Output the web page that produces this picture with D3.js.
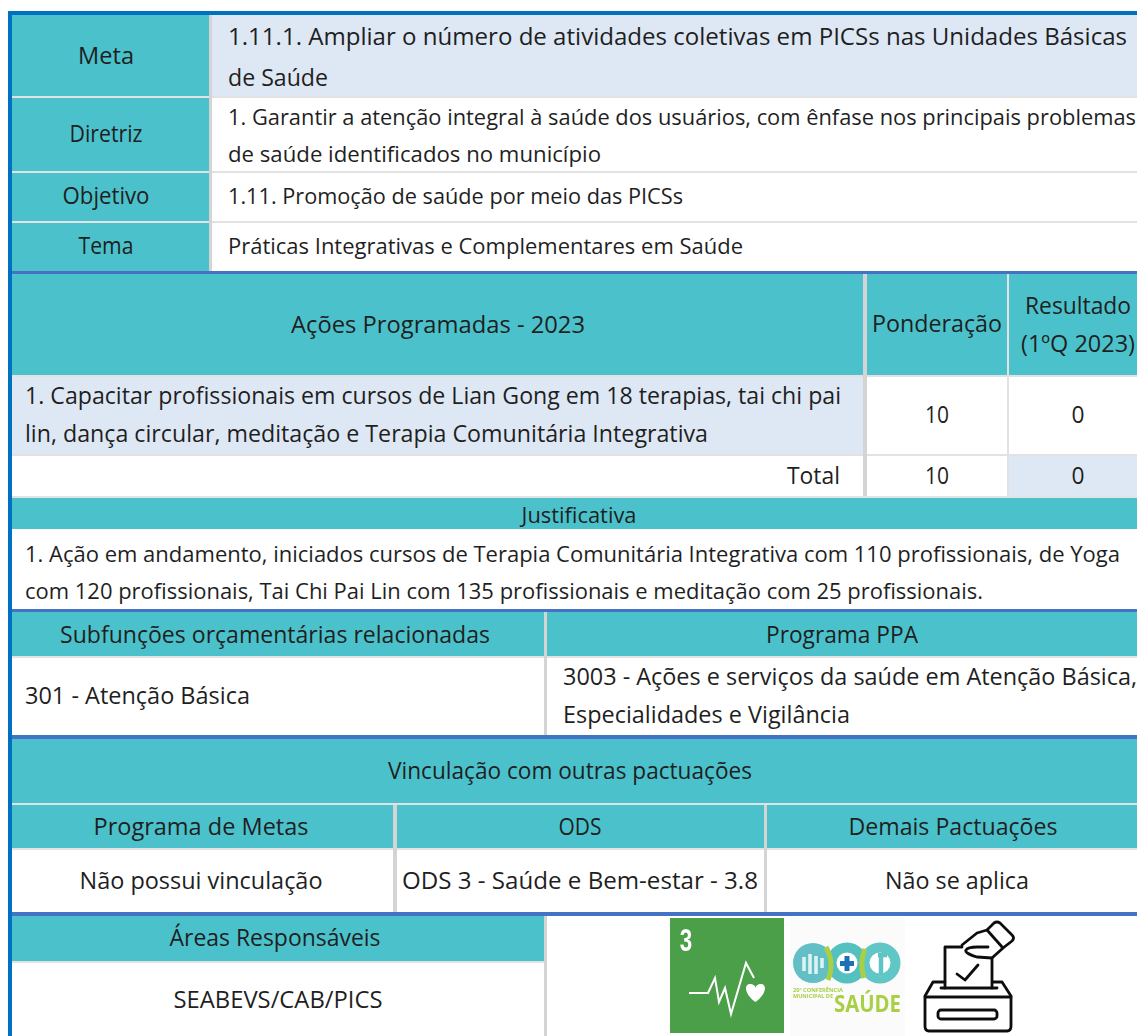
<!DOCTYPE html>
<html>
<head>
<meta charset="utf-8">
<style>
html, body { margin: 0; padding: 0; background: #fff; }
svg { display: block; }
text { font-family: "Open Sans", sans-serif; font-size: 23px; fill: #1f1f1f; }
</style>
</head>
<body>
<svg id="chart" width="1137" height="1036"></svg>
<script src="https://cdnjs.cloudflare.com/ajax/libs/d3/7.8.5/d3.min.js"></script>
<script>
// table content
const headLabels = ["Meta", "Diretriz", "Objetivo", "Tema"]
const headTexts = [
  ["1.11.1. Ampliar o número de atividades coletivas em PICSs nas Unidades Básicas", "de Saúde"],
  ["1. Garantir a atenção integral à saúde dos usuários, com ênfase nos principais problemas", "de saúde identificados no município"],
  ["1.11. Promoção de saúde por meio das PICSs"],
  ["Práticas Integrativas e Complementares em Saúde"]
]
const actionHeaders = ["Ações Programadas - 2023", "Ponderação", ["Resultado", "(1ºQ 2023)"]]
const actionLines = ["1. Capacitar profissionais em cursos de Lian Gong em 18 terapias, tai chi pai", "lin, dança circular, meditação e Terapia Comunitária Integrativa"]
const weights = [10, 10]
const results = [0, 0]
const totalLabel = "Total"
const justTitle = "Justificativa"
const justLines = ["1. Ação em andamento, iniciados cursos de Terapia Comunitária Integrativa com 110 profissionais, de Yoga", "com 120 profissionais, Tai Chi Pai Lin com 135 profissionais e meditação com 25 profissionais."]
const budgetHeaders = ["Subfunções orçamentárias relacionadas", "Programa PPA"]
const budgetLeft = "301 - Atenção Básica"
const budgetRight = ["3003 - Ações e serviços da saúde em Atenção Básica,", "Especialidades e Vigilância"]
const linkTitle = "Vinculação com outras pactuações"
const linkHeaders = ["Programa de Metas", "ODS", "Demais Pactuações"]
const linkValues = ["Não possui vinculação", "ODS 3 - Saúde e Bem-estar - 3.8", "Não se aplica"]
const areaTitle = "Áreas Responsáveis"
const areaValue = "SEABEVS/CAB/PICS"

const TEAL = "#4bc2cb", PALE = "#deE8f5", GREY = "#e2e2e2", DARK = "#d4d4d4", BLUE = "#4472c4", FRAME = "#0070c0"
const W = 1137, H = 1036

const svg = d3.select("#chart")
const rects = svg.append("g")
const labels = svg.append("g")

function box(x0, x1, y0, y1, fill) {
  rects.append("rect").attr("x", x0).attr("y", y0).attr("width", x1 - x0).attr("height", y1 - y0).attr("fill", fill)
}
// wide = width the text takes up in the picture, the glyphs get squeezed to it
function say(str, x, y, anchor, wide, size) {
  const t = labels.append("text").attr("x", x).attr("y", y).attr("dy", "0.36em")
    .attr("text-anchor", anchor || "start").text(str)
  if (wide) t.attr("textLength", wide).attr("lengthAdjust", "spacingAndGlyphs")
  if (size) t.style("font-size", size + "px")
}

// top block
const headY = d3.scaleOrdinal().domain(headLabels).range([15, 98, 173, 223])
const headEnd = d3.scaleOrdinal().domain(headLabels).range([96, 171, 221, 271])
const headLabelY = [56, 134, 196, 246]
const headLineY = [[36, 77], [117, 154], [196], [246]]
const headLabelW = [56, 73, 87, 55]
const headLineW = [[899, 100], [908, 373], [455], [515]]
const headLineSize = [[24, 24], [21.8, 21.8], [22], [22]]
headLabels.forEach((d, i) => {
  box(12, 209, headY(d), headEnd(d), TEAL)
  box(212, W, headY(d), headEnd(d), i == 0 ? PALE : "#fff")
  if (i < 3) box(12, W, headEnd(d), headEnd(d) + 2, GREY)
  say(d, 106, headLabelY[i], "middle", headLabelW[i])
  headTexts[i].forEach((t, j) => say(t, 228, headLineY[i][j], "start", headLineW[i][j], headLineSize[i][j]))
})
box(209, 212, 15, 274, DARK)

// actions
box(12, 863, 274, 375, TEAL); box(867, 1007, 274, 375, TEAL); box(1009, W, 274, 375, TEAL)
box(12, W, 375, 377, GREY)
box(12, 863, 377, 454, PALE)
box(12, W, 454, 456, GREY)
box(1009, W, 456, 496, PALE)
box(863, 867, 274, 496, DARK)
box(1007, 1009, 274, 496, GREY)
say(actionHeaders[0], 438, 325, "middle", 294)
say(actionHeaders[1], 937, 324, "middle", 130)
say(actionHeaders[2][0], 1078, 306, "middle", 106)
say(actionHeaders[2][1], 1078, 344, "middle", 114)
actionLines.forEach((t, i) => say(t, 25, [396, 434][i], "start", [816, 683][i]))
const rowY = [415, 476]
weights.forEach((d, i) => say(d, 937, rowY[i], "middle", 24))
results.forEach((d, i) => say(d, 1078, rowY[i], "middle", 13))
say(totalLabel, 840, 476, "end", 53)
box(12, W, 496, 498, GREY)

// justification
box(12, W, 498, 529, TEAL)
say(justTitle, 579, 515, "middle", 115, 22)
justLines.forEach((t, i) => say(t, 25, [554, 591][i], "start", [1095, 958][i], 22))

// budget
box(12, 544, 612, 656, TEAL); box(547, W, 612, 656, TEAL)
box(12, W, 656, 658, GREY)
box(544, 547, 612, 735, DARK)
say(budgetHeaders[0], 275, 635, "middle", 430)
say(budgetHeaders[1], 842, 635, "middle", 152)
say(budgetLeft, 25, 696, "start", 225)
budgetRight.forEach((t, i) => say(t, 563, [677, 715][i], "start", [574, 287][i]))

// links
box(12, W, 739, 803, TEAL)
box(12, W, 803, 805, GREY)
say(linkTitle, 570, 771, "middle", 364)
const linkCols = [[12, 393], [397, 764], [767, W]]
const linkHeadX = [201, 580, 953]
const linkValX = [201, 580, 957]
const linkHeadW = [215, 43, 209]
const linkValW = [243, 356, 144]
linkCols.forEach((c, i) => {
  box(c[0], c[1], 805, 848, TEAL)
  say(linkHeaders[i], linkHeadX[i], 827, "middle", linkHeadW[i])
  say(linkValues[i], linkValX[i], 881, "middle", linkValW[i])
})
box(12, W, 848, 850, GREY)
box(393, 397, 805, 912, DARK)
box(764, 767, 805, 912, DARK)

// areas
box(12, 544, 916, 961, TEAL)
box(12, 544, 961, 963, GREY)
box(544, 547, 916, H, DARK)
say(areaTitle, 275, 938, "middle", 211)
say(areaValue, 278, 1000, "middle", 209)

// blue rules and frame
;[[271, 274], [609, 612], [735, 739], [912, 916]].forEach(d => box(12, W, d[0], d[1], BLUE))
box(8, W, 11, 15, FRAME)
box(8, 12, 11, H, FRAME)

// pictures at the bottom
const defs = svg.append("defs")
defs.append("filter").attr("id", "soft").append("feGaussianBlur").attr("stdDeviation", 0.6)
const pics = svg.append("g").attr("filter", "url(#soft)")

// ODS 3 tile
pics.append("rect").attr("x", 670).attr("y", 918).attr("width", 114).attr("height", 115).attr("fill", "#4c9f48")
pics.append("text").attr("x", 686).attr("y", 951).attr("text-anchor", "middle")
  .style("font-family", "'Liberation Sans'").style("font-weight", 700).style("font-size", "32px").style("fill", "#fff")
  .attr("transform", "translate(686 0) scale(.7 1) translate(-686 0)").text("3")
pics.append("path").attr("d", "M689 993H708L715 978L719 1002L725 988L731 1014L746 963L754 978")
  .attr("fill", "none").attr("stroke", "#fff").attr("stroke-width", 2)
pics.append("path").attr("d", "M755.5 1002C744 994 744 984 750 984C753 984 755.5 986 755.5 988C755.5 986 758 984 761 984C767 984 767 994 755.5 1002Z")
  .attr("fill", "#fff")

// conference logo
pics.append("rect").attr("x", 790).attr("y", 917).attr("width", 115).attr("height", 119).attr("fill", "#fbfbfb")
pics.append("circle").attr("cx", 813).attr("cy", 963).attr("r", 20).attr("fill", "#62bfc6")
pics.selectAll("circle.ring").data([847, 880]).enter().append("circle").attr("class", "ring")
  .attr("cx", d => d).attr("cy", 963).attr("r", 15.5)
  .attr("fill", "#fff").attr("stroke", (d, i) => ["#55c0c0", "#60c6c6"][i]).attr("stroke-width", 10)
pics.append("path").attr("d", "M826 947Q835 963 828 980").attr("fill", "none").attr("stroke", "#a9cf45").attr("stroke-width", 5)
pics.append("path").attr("d", "M865 949Q859 963 864 978").attr("fill", "none").attr("stroke", "#a9cf45").attr("stroke-width", 5)
pics.append("path").attr("d", "M847 956V971M840 963.5H854").attr("stroke", "#1f6fb5").attr("stroke-width", 5)
pics.append("path").attr("d", "M804 957v14M810 954v20M816 956v18M822 958v10").attr("stroke", "#dff3f3").attr("stroke-width", 3.5)
pics.append("path").attr("d", "M878 955h9M881 955v20").attr("stroke", "#5fc4c6").attr("stroke-width", 4.5).attr("fill", "none")
pics.append("text").attr("x", 793).attr("y", 992).attr("textLength", 50).attr("lengthAdjust", "spacingAndGlyphs")
  .style("font-size", "5px").style("font-weight", 700).style("fill", "#a9cf45").text("20ª CONFERÊNCIA")
pics.append("text").attr("x", 793).attr("y", 998).attr("textLength", 40).attr("lengthAdjust", "spacingAndGlyphs")
  .style("font-size", "5px").style("font-weight", 700).style("fill", "#a9cf45").text("MUNICIPAL DE")
pics.append("text").attr("x", 834).attr("y", 1012).attr("textLength", 67).attr("lengthAdjust", "spacingAndGlyphs")
  .style("font-size", "23px").style("font-weight", 700).style("fill", "#a9cf45").text("SAÚDE")

// ballot box icon
const ballot = pics.append("g").attr("fill", "none").attr("stroke", "#111").attr("stroke-width", 2.8).attr("stroke-linejoin", "round").attr("stroke-linecap", "round")
ballot.append("path").attr("d", "M945 982H933L925 996V1026Q925 1031 929 1031H1007Q1011 1031 1011 1026V996L1002 982H993")
ballot.append("path").attr("d", "M925 997H1011")
ballot.append("path").attr("d", "M941 988H997")
ballot.append("rect").attr("x", 938).attr("y", 1010).attr("width", 59).attr("height", 9).attr("rx", 3)
ballot.append("path").attr("d", "M945 988V947H962M992 958V988")
ballot.append("path").attr("d", "M957 974L965 980L978 965")
ballot.append("path").attr("d", "M962 945L977 933L987 930L1003 948L992 958L977 957Q964 953 966 950Q968 947 977 947L988 947")
ballot.append("path").attr("d", "M987 930L994 923Q997 921 1000 923L1012 935Q1015 938 1012 941L1003 948")
</script>
</body>
</html>
